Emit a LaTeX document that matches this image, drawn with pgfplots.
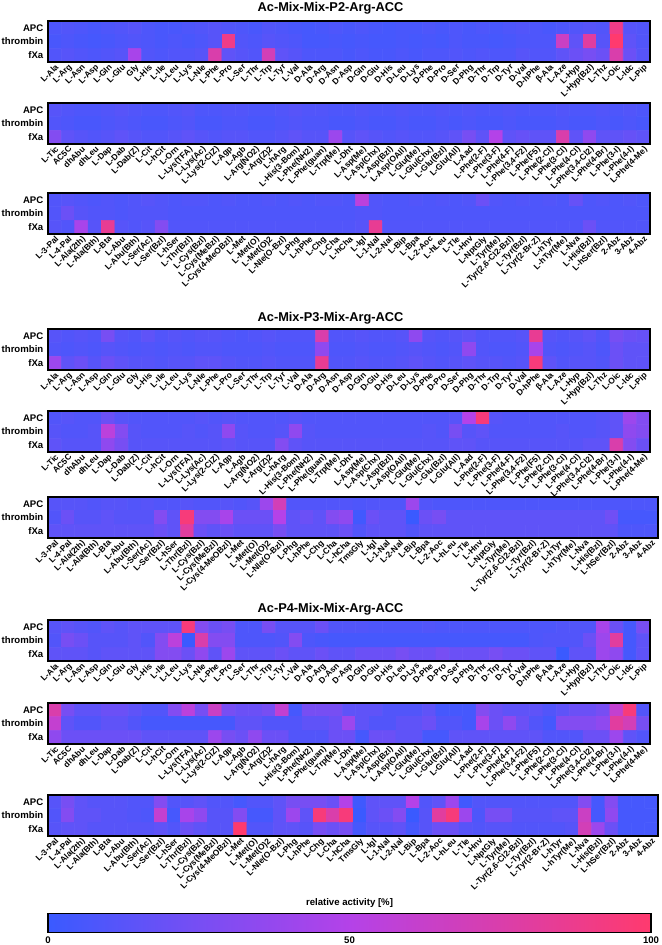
\documentclass[border=0pt]{standalone}
\usepackage{fontspec}
\setmainfont{Liberation Sans}
\usepackage{pgfplots}
\pgfplotsset{compat=1.18}
\newcommand{\lbl}{\fontsize{6.3}{7}\selectfont\bfseries}
\newcommand{\ylbl}{\fontsize{7.2}{8}\selectfont\bfseries}
\newcommand{\ttl}{\fontsize{9.6}{11}\selectfont\bfseries}
\pgfplotsset{
  colormap={act}{rgb255=(58,90,255) rgb255=(180,66,232) rgb255=(255,58,110)},
  hm/.style={scale only axis, height=30.75pt, anchor=north west, enlargelimits=false,
    ymin=-0.5, ymax=2.5, y dir=reverse, ytick={0,1,2}, yticklabels={APC,thrombin,fXa},
    colormap name=act, point meta min=0, point meta max=100, major tick length=0pt,
    axis line style={line width=1pt}, axis on top,
    xticklabel style={rotate=45, anchor=north east, font=\lbl, inner sep=0.6pt},
    yticklabel style={font=\ylbl}},
  hm45/.style={hm, width=451.5pt, xmin=-0.5, xmax=44.5, xtick={0,...,44}},
  hm46/.style={hm, width=457.5pt, xmin=-0.5, xmax=45.5, xtick={0,...,45}},
  cellsA/.style={matrix plot*, mesh/cols=45, point meta=explicit},
  cellsB/.style={matrix plot*, mesh/cols=46, point meta=explicit},
}
\def\labA{{L-Ala},{L-Arg},{L-Asn},{L-Asp},{L-Gln},{L-Glu},{Gly},{L-His},{L-Ile},{L-Leu},{L-Lys},{L-Nle},{L-Phe},{L-Pro},{L-Ser},{L-Thr},{L-Trp},{L-Tyr},{L-Val},{D-Ala},{D-Arg},{D-Asn},{D-Asp},{D-Gln},{D-Glu},{D-His},{D-Leu},{D-Lys},{D-Phe},{D-Pro},{D-Ser},{D-Phg},{D-Thr},{D-Trp},{D-Tyr},{D-Val},{D-hPhe},{β-Ala},{L-Aze},{L-Hyp},{L-Hyp(Bzl)},{L-Thz},{L-Oic},{L-Idc},{L-Pip}}
\def\labB{{L-Tic},{AC5C},{dhAbu},{dhLeu},{L-Dap},{L-Dab},{L-Dab(Z)},{L-Cit},{L-hCit},{L-Orn},{L-Lys(TFA)},{L-Lys(Ac)},{L-Lys(2-ClZ)},{L-Agp},{L-Agb},{L-Arg(NO2)},{L-Arg(Z)2},{L-hArg},{L-His(3-Bom)},{L-Phe(NH2)},{L-Phe(guan)},{L-Trp(Me)},{L-Dht},{L-Asp(Me)},{L-Asp(Chx)},{L-Asp(Bzl)},{L-Asp(OAll)},{L-Glu(Me)},{L-Glu(Chx)},{L-Glu(Bzl)},{L-Glu(All)},{L-Aad},{L-Phe(2-F)},{L-Phe(3-F)},{L-Phe(4-F)},{L-Phe(3,4-F2)},{L-Phe(F5)},{L-Phe(2-Cl)},{L-Phe(3-Cl)},{L-Phe(4-Cl)},{L-Phe(3,4-Cl2)},{L-Phe(4-Br)},{L-Phe(3-I)},{L-Phe(4-I)},{L-Phe(4-Me)}}
\def\labC{{L-3-Pal},{L-4-Pal},{L-Ala(2th)},{L-Ala(Bth)},{L-Bta},{L-Abu},{L-Abu(Bth)},{L-Ser(Ac)},{L-Ser(Bzl)},{L-hSer},{L-Thr(Bzl)},{L-Cys(Bzl)},{L-Cys(MeBzl)},{L-Cys(4-MeOBzl)},{L-Met},{L-Met(O)},{L-Met(O)2},{L-Nle(O-Bzl)},{L-Phg},{L-hPhe},{L-Chg},{L-Cha},{L-hCha},{L-Igl},{L-1-Nal},{L-2-Nal},{L-Bip},{L-Bpa},{L-2-Aoc},{L-hLeu},{L-Tle},{L-Hnv},{L-NptGly},{L-Tyr(Me)},{L-Tyr(2,6-Cl2-Bzl)},{L-Tyr(Bzl)},{L-Tyr(2-Br-Z)},{L-hTyr},{L-hTyr(Me)},{L-Nva},{L-His(Bzl)},{L-hSer(Bzl)},{2-Abz},{3-Abz},{4-Abz}}
\def\labD{{L-3-Pal},{L-4-Pal},{L-Ala(2th)},{L-Ala(Bth)},{L-Bta},{L-Abu},{L-Abu(Bth)},{L-Ser(Ac)},{L-Ser(Bzl)},{L-hSer},{L-Thr(Bzl)},{L-Cys(Bzl)},{L-Cys(MeBzl)},{L-Cys(4-MeOBzl)},{L-Met},{L-Met(O)},{L-Met(O)2},{L-Nle(O-Bzl)},{L-Phg},{L-hPhe},{L-Chg},{L-Cha},{L-hCha},{TmsGly},{L-Igl},{L-1-Nal},{L-2-Nal},{L-Bip},{L-Bpa},{L-2-Aoc},{L-hLeu},{L-Tle},{L-Hnv},{L-NptGly},{L-Tyr(Me)},{L-Tyr(2,6-Cl2-Bzl)},{L-Tyr(Bzl)},{L-Tyr(2-Br-Z)},{L-hTyr},{L-hTyr(Me)},{L-Nva},{L-His(Bzl)},{L-hSer(Bzl)},{2-Abz},{3-Abz},{4-Abz}}
\begin{document}
\begin{tikzpicture}
\useasboundingbox (0,0) rectangle (495.75pt,-708.75pt);
% ===== Group 1: Ac-Mix-Mix-P2-Arg-ACC =====
\begin{axis}[hm45, at={(36pt,-15.75pt)}, xticklabels/.expand once=\labA]
\addplot[cellsA] table[header=false, row sep=\\, x expr={mod(\coordindex,45)}, y expr={floor(\coordindex/45)}, meta index=0] {
8\\10\\8\\6\\8\\10\\12\\8\\6\\6\\8\\10\\12\\10\\8\\6\\10\\8\\6\\5\\6\\8\\6\\8\\6\\5\\6\\6\\8\\6\\8\\6\\8\\6\\8\\10\\8\\6\\8\\10\\12\\10\\90\\12\\10\\
6\\8\\6\\5\\6\\8\\10\\8\\6\\8\\6\\8\\12\\90\\10\\8\\12\\10\\8\\5\\5\\6\\5\\6\\5\\5\\6\\5\\6\\5\\8\\6\\6\\5\\6\\8\\8\\8\\65\\15\\80\\12\\100\\15\\10\\
10\\12\\10\\8\\10\\12\\45\\10\\8\\10\\10\\12\\75\\15\\12\\10\\70\\15\\12\\8\\8\\8\\6\\8\\6\\6\\8\\6\\8\\8\\10\\8\\10\\8\\8\\12\\10\\10\\15\\20\\25\\20\\75\\20\\12\\
};
\end{axis}
\begin{axis}[hm45, at={(36pt,-77.25pt)}, xticklabels/.expand once=\labB]
\addplot[cellsA] table[header=false, row sep=\\, x expr={mod(\coordindex,45)}, y expr={floor(\coordindex/45)}, meta index=0] {
12\\10\\8\\8\\10\\12\\10\\8\\8\\10\\12\\8\\8\\10\\10\\8\\8\\10\\12\\10\\10\\8\\8\\10\\8\\8\\10\\8\\8\\10\\8\\10\\8\\8\\10\\8\\8\\8\\10\\8\\8\\10\\8\\10\\8\\
10\\8\\6\\6\\8\\10\\8\\6\\6\\8\\10\\6\\6\\8\\8\\6\\6\\8\\10\\8\\8\\6\\6\\8\\6\\6\\8\\6\\6\\8\\6\\8\\6\\6\\8\\6\\6\\6\\8\\6\\6\\8\\6\\8\\6\\
30\\15\\12\\10\\12\\15\\12\\10\\10\\12\\15\\12\\10\\12\\12\\10\\10\\12\\15\\12\\12\\40\\12\\15\\12\\10\\12\\10\\10\\12\\15\\25\\15\\50\\15\\18\\15\\15\\75\\15\\35\\15\\15\\18\\15\\
};
\end{axis}
\begin{axis}[hm45, at={(36pt,-144.75pt)}, xticklabels/.expand once=\labC]
\addplot[cellsA] table[header=false, row sep=\\, x expr={mod(\coordindex,45)}, y expr={floor(\coordindex/45)}, meta index=0] {
10\\12\\10\\8\\10\\8\\10\\12\\10\\8\\10\\10\\8\\10\\8\\8\\10\\8\\10\\8\\10\\10\\8\\55\\10\\8\\8\\10\\8\\10\\8\\10\\20\\10\\8\\10\\8\\10\\8\\18\\8\\10\\8\\10\\8\\
10\\20\\12\\10\\10\\8\\10\\10\\10\\8\\8\\8\\8\\8\\8\\8\\8\\8\\8\\8\\8\\8\\8\\10\\10\\8\\8\\8\\8\\8\\8\\8\\8\\8\\8\\8\\8\\8\\8\\8\\8\\8\\8\\8\\8\\
12\\10\\45\\12\\85\\12\\10\\12\\30\\10\\10\\10\\10\\10\\10\\10\\10\\10\\10\\10\\10\\10\\10\\12\\85\\10\\10\\10\\10\\10\\10\\10\\10\\10\\10\\10\\10\\10\\10\\10\\20\\10\\10\\10\\10\\
};
\end{axis}
% ===== Group 2: Ac-Mix-P3-Mix-Arg-ACC =====
\begin{axis}[hm45, at={(36pt,-246.75pt)}, xticklabels/.expand once=\labA]
\addplot[cellsA] table[header=false, row sep=\\, x expr={mod(\coordindex,45)}, y expr={floor(\coordindex/45)}, meta index=0] {
12\\10\\12\\10\\25\\12\\10\\15\\10\\12\\10\\12\\12\\10\\8\\10\\12\\10\\10\\10\\75\\10\\10\\12\\10\\10\\12\\35\\12\\10\\12\\15\\10\\10\\10\\12\\85\\12\\10\\12\\15\\10\\25\\20\\18\\
10\\8\\10\\8\\12\\10\\8\\10\\8\\10\\8\\10\\10\\8\\8\\8\\10\\8\\8\\8\\35\\8\\8\\10\\8\\8\\10\\12\\10\\8\\10\\35\\10\\8\\8\\10\\45\\10\\8\\10\\12\\8\\20\\15\\15\\
40\\15\\20\\12\\20\\15\\12\\12\\10\\12\\12\\15\\15\\12\\10\\10\\12\\10\\10\\10\\85\\10\\10\\12\\10\\10\\12\\15\\12\\10\\12\\15\\12\\12\\10\\12\\95\\15\\10\\12\\12\\10\\20\\15\\15\\
};
\end{axis}
\begin{axis}[hm45, at={(36pt,-308.25pt)}, xticklabels/.expand once=\labB]
\addplot[cellsA] table[header=false, row sep=\\, x expr={mod(\coordindex,45)}, y expr={floor(\coordindex/45)}, meta index=0] {
10\\12\\10\\10\\20\\12\\10\\10\\10\\10\\10\\12\\10\\12\\10\\10\\10\\10\\12\\10\\10\\10\\10\\10\\10\\10\\10\\10\\10\\10\\12\\50\\95\\12\\10\\10\\10\\10\\10\\10\\10\\12\\15\\40\\30\\
12\\10\\10\\12\\55\\30\\12\\10\\10\\10\\12\\10\\12\\35\\12\\10\\10\\12\\35\\12\\10\\10\\10\\10\\10\\10\\10\\10\\12\\10\\25\\12\\15\\10\\10\\10\\10\\10\\12\\10\\10\\12\\15\\35\\30\\
15\\12\\12\\12\\35\\25\\12\\12\\12\\12\\12\\12\\12\\15\\12\\12\\12\\30\\15\\12\\12\\12\\12\\12\\12\\12\\12\\12\\12\\12\\15\\15\\12\\12\\12\\12\\12\\12\\12\\12\\15\\15\\75\\30\\20\\
};
\end{axis}
\begin{axis}[hm46, at={(36pt,-372.75pt)}, xticklabels/.expand once=\labD]
\addplot[cellsB] table[header=false, row sep=\\, x expr={mod(\coordindex,46)}, y expr={floor(\coordindex/46)}, meta index=0] {
12\\12\\12\\10\\12\\12\\10\\12\\10\\10\\12\\10\\10\\12\\10\\12\\40\\70\\10\\10\\10\\10\\10\\8\\10\\10\\10\\40\\10\\8\\8\\8\\8\\8\\8\\8\\8\\8\\8\\8\\8\\8\\8\\8\\8\\8\\
10\\20\\12\\12\\15\\12\\12\\12\\30\\15\\95\\30\\30\\45\\20\\20\\20\\50\\15\\20\\15\\30\\35\\3\\20\\15\\15\\0\\20\\25\\15\\15\\15\\15\\15\\15\\15\\15\\15\\15\\15\\15\\22\\5\\5\\5\\
15\\15\\15\\15\\15\\15\\15\\15\\20\\15\\80\\20\\15\\20\\15\\15\\15\\25\\15\\15\\15\\15\\20\\10\\15\\15\\15\\10\\15\\15\\15\\15\\15\\15\\15\\15\\15\\15\\15\\15\\15\\15\\15\\8\\8\\8\\
};
\end{axis}
% ===== Group 3: Ac-P4-Mix-Mix-Arg-ACC =====
\begin{axis}[hm45, at={(36pt,-465pt)}, xticklabels/.expand once=\labA]
\addplot[cellsA] table[header=false, row sep=\\, x expr={mod(\coordindex,45)}, y expr={floor(\coordindex/45)}, meta index=0] {
12\\15\\12\\10\\15\\12\\15\\15\\15\\15\\95\\30\\20\\25\\8\\8\\25\\12\\12\\12\\20\\10\\10\\10\\8\\8\\8\\8\\10\\8\\8\\8\\8\\8\\8\\8\\8\\8\\10\\10\\10\\45\\20\\5\\25\\
10\\25\\20\\12\\12\\12\\15\\10\\30\\55\\0\\75\\30\\30\\8\\8\\8\\10\\30\\8\\6\\5\\5\\5\\5\\5\\5\\5\\5\\5\\5\\5\\5\\5\\5\\5\\8\\10\\10\\10\\20\\40\\80\\5\\15\\
15\\15\\15\\12\\15\\15\\15\\15\\30\\30\\20\\35\\15\\40\\15\\15\\15\\20\\15\\15\\20\\15\\15\\20\\20\\20\\25\\20\\20\\25\\20\\20\\20\\25\\20\\20\\15\\15\\0\\15\\15\\40\\35\\5\\15\\
};
\end{axis}
\begin{axis}[hm45, at={(36pt,-527.25pt)}, xticklabels/.expand once=\labB]
\addplot[cellsA] table[header=false, row sep=\\, x expr={mod(\coordindex,45)}, y expr={floor(\coordindex/45)}, meta index=0] {
75\\25\\15\\15\\20\\20\\15\\10\\10\\30\\55\\25\\65\\25\\20\\20\\25\\60\\5\\25\\25\\25\\15\\15\\15\\10\\10\\10\\15\\5\\5\\5\\30\\20\\15\\15\\15\\10\\15\\20\\20\\25\\60\\95\\10\\
60\\15\\10\\10\\15\\15\\10\\5\\5\\5\\5\\5\\5\\5\\15\\15\\10\\10\\10\\15\\15\\20\\40\\15\\10\\10\\15\\15\\20\\10\\10\\5\\45\\20\\35\\20\\10\\5\\30\\30\\30\\35\\80\\70\\25\\
35\\20\\20\\20\\20\\20\\20\\15\\15\\15\\15\\15\\40\\25\\20\\35\\20\\20\\10\\10\\10\\20\\20\\5\\20\\20\\15\\15\\5\\5\\15\\15\\15\\15\\15\\15\\15\\10\\10\\10\\20\\20\\40\\15\\10\\
};
\end{axis}
\begin{axis}[hm46, at={(36pt,-596.25pt)}, xticklabels/.expand once=\labD,
  colorbar horizontal,
  colorbar style={at={(parent axis.south west)}, anchor=north west, xshift=0pt, yshift=-49.5pt,
    scale only axis, width=452.25pt, height=14.25pt,
    xtick={0,50,100}, xticklabels={0,50,100}, major tick length=0pt,
    xticklabel style={font=\ylbl, rotate=0, anchor=north},
    axis line style={line width=1pt},
    xlabel={relative activity [\%]},
    xlabel style={font=\ylbl, at={(axis description cs:0.5,1)}, anchor=south, yshift=1pt}}]
\addplot[cellsB] table[header=false, row sep=\\, x expr={mod(\coordindex,46)}, y expr={floor(\coordindex/46)}, meta index=0] {
12\\25\\15\\12\\12\\12\\10\\10\\30\\10\\12\\15\\10\\10\\5\\10\\10\\15\\25\\25\\25\\20\\50\\2\\15\\15\\15\\50\\10\\15\\40\\3\\10\\10\\10\\10\\10\\10\\10\\10\\30\\5\\30\\5\\5\\5\\
10\\30\\15\\15\\12\\12\\10\\8\\60\\5\\45\\35\\12\\12\\30\\5\\5\\15\\40\\15\\95\\75\\95\\0\\15\\20\\30\\0\\12\\80\\95\\40\\8\\25\\25\\12\\12\\12\\15\\15\\65\\5\\35\\5\\5\\5\\
12\\15\\15\\12\\12\\12\\12\\12\\15\\10\\20\\15\\12\\12\\100\\10\\10\\15\\15\\12\\25\\20\\25\\5\\12\\12\\15\\5\\12\\20\\20\\12\\10\\12\\12\\10\\10\\10\\10\\12\\70\\40\\20\\5\\5\\5\\
};
\end{axis}
% titles
\node[font=\ttl] at (247.9pt,-6pt) {Ac-Mix-Mix-P2-Arg-ACC};
\node[font=\ttl] at (247.9pt,-238.5pt) {Ac-Mix-P3-Mix-Arg-ACC};
\node[font=\ttl] at (247.9pt,-456.75pt) {Ac-P4-Mix-Mix-Arg-ACC};
\end{tikzpicture}
\end{document}
